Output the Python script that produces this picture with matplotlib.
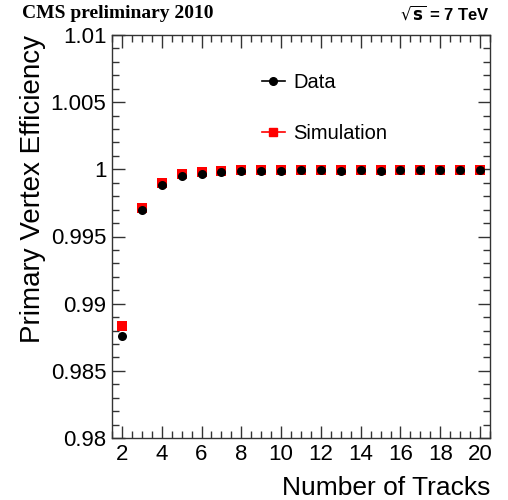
import matplotlib
matplotlib.use("Agg")
import matplotlib.pyplot as plt
from matplotlib.ticker import MultipleLocator, FuncFormatter
from matplotlib.lines import Line2D

n_tracks = [2, 3, 4, 5, 6, 7, 8, 9, 10, 11, 12, 13, 14, 15, 16, 17, 18, 19, 20]
eff_data = [0.98760, 0.99700, 0.99885, 0.99950, 0.99965, 0.99980, 0.99987, 0.99987,
            0.99990, 0.99992, 0.99993, 0.99990, 0.99998, 0.99990, 0.99995, 0.99995,
            0.99995, 0.99995, 0.99995]
eff_sim = [0.98834, 0.99710, 0.99900, 0.99965, 0.99980, 0.99988, 0.99992, 0.99995,
           0.99997, 0.99997, 0.99998, 0.99997, 0.99998, 0.99998, 0.99993, 0.99998,
           0.99998, 0.99998, 0.99998]

plt.rcParams["font.family"] = ["Liberation Sans", "DejaVu Sans"]

fig = plt.figure(figsize=(5.08, 5.00), dpi=100)
ax = fig.add_axes([0.2205, 0.124, 0.744, 0.806])

ax.plot(n_tracks, eff_sim, linestyle="none", marker="s", color="#ff0000",
        markersize=7, markeredgewidth=0, zorder=3)
ax.plot(n_tracks, eff_data, linestyle="none", marker="o", color="black",
        markersize=6.5, markeredgewidth=0, zorder=4)

ax.set_xlim(1.5, 20.5)
ax.set_ylim(0.98, 1.01)

ax.xaxis.set_major_locator(MultipleLocator(2))
ax.xaxis.set_minor_locator(MultipleLocator(0.5))
ax.yaxis.set_major_locator(MultipleLocator(0.005))
ax.yaxis.set_minor_locator(MultipleLocator(0.001))


def fmt_y(v, pos):
    return f"{v:.3f}".rstrip("0").rstrip(".")


ax.yaxis.set_major_formatter(FuncFormatter(fmt_y))

ax.tick_params(which="both", direction="in", top=True, right=True,
               color="#333333", width=1.0)
ax.tick_params(which="major", length=9, labelsize=16, pad=4)
ax.tick_params(which="minor", length=5)
for sp in ax.spines.values():
    sp.set_color("#333333")
    sp.set_linewidth(1.0)

ax.set_ylabel("Primary Vertex Efficiency", fontsize=20, loc="top")
ax.yaxis.set_label_coords(-0.175, 1.0)
ax.set_xlabel("Number of Tracks", fontsize=19, loc="right")
ax.xaxis.set_label_coords(1.0, -0.095)
ax.xaxis.label.set_va("top")

handles = [
    Line2D([], [], color="black", marker="o", markersize=5.5, linewidth=1.2),
    Line2D([], [], color="#ff0000", marker="s", markersize=6, linewidth=1.2),
]
ax.legend(handles, ["Data", "Simulation"], loc="upper left",
          bbox_to_anchor=(0.35, 0.95), frameon=False, fontsize=14.5,
          handlelength=1.1, labelspacing=1.6, handletextpad=0.45)

fig.text(0.043, 0.974, "CMS preliminary 2010", family="Liberation Serif",
         fontweight="bold", fontsize=14, ha="left", va="center")
fig.text(0.965, 0.974, r"$\sqrt{\mathbf{s}}$ = 7 TeV", fontweight="bold",
         fontsize=12, ha="right", va="center")

fig.savefig("out.png", dpi=100)
